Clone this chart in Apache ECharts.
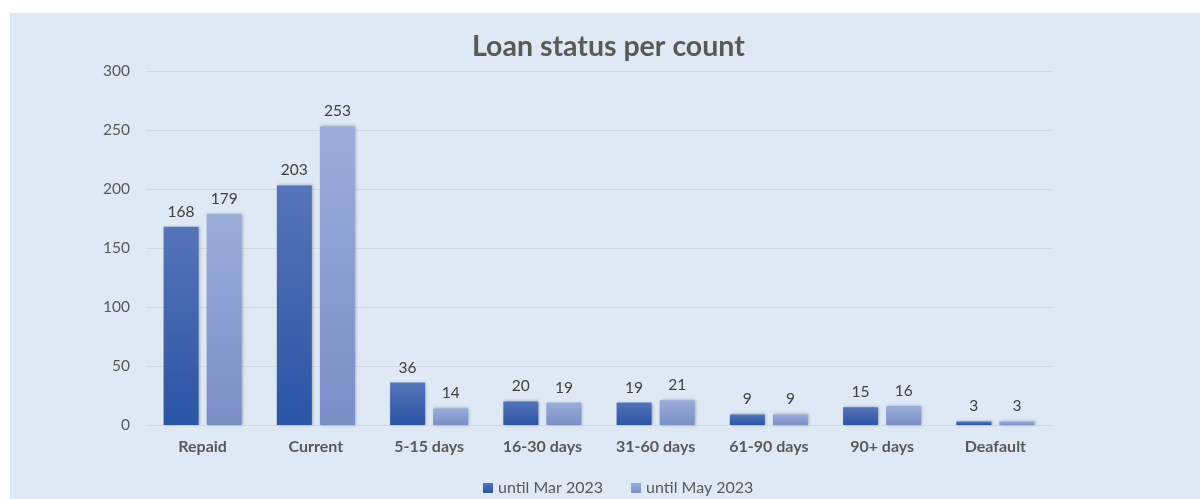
<!DOCTYPE html>
<html>
<head>
<meta charset="utf-8">
<script src="https://cdn.jsdelivr.net/npm/echarts@6/dist/echarts.min.js"></script>
<style>
html,body{margin:0;padding:0;background:#ffffff;width:1200px;height:499px;overflow:hidden;}
#chart{position:absolute;left:10px;top:13px;width:1190px;height:486px;}
</style>
</head>
<body>
<div id="chart"></div>
<script>
const categories = ['Repaid','Current','5-15 days','16-30 days','31-60 days','61-90 days','90+ days','Deafault'];
const seriesNames = ['until Mar 2023','until May 2023'];
const marValues = [168,203,36,20,19,9,15,3];
const mayValues = [179,253,14,19,21,9,16,3];
const yTicks = {min:0,max:300,interval:50};

const font = 'Lato, "Open Sans", sans-serif';
const chart = echarts.init(document.getElementById('chart'));
function grad(top,bottom){
  return new echarts.graphic.LinearGradient(0,0,0,1,[{offset:0,color:top},{offset:1,color:bottom}]);
}
const labelCfg = {show:true,position:'top',distance:7,color:'#404040',fontSize:15.5,fontFamily:font};
chart.setOption({
  backgroundColor:'#dee9f5',
  animation:false,
  title:{text:'Loan status per count',left:457,top:14,
    textStyle:{fontFamily:font,fontSize:28.5,fontWeight:'bold',color:'#595959'}},
  legend:{top:462,left:468,itemWidth:10,itemHeight:10,itemGap:28,icon:'rect',
    textStyle:{fontFamily:font,fontSize:16,color:'#595959'},
    data:seriesNames},
  grid:{left:136,right:148,top:58,bottom:74},
  xAxis:{type:'category',data:categories,
    axisLine:{lineStyle:{color:'#d3d9e0',width:1}},
    axisTick:{show:false},
    axisLabel:{fontFamily:font,fontSize:16,fontWeight:'bold',color:'#595959',margin:14}},
  yAxis:{type:'value',min:yTicks.min,max:yTicks.max,interval:yTicks.interval,
    axisLine:{show:false},axisTick:{show:false},
    splitLine:{lineStyle:{color:'#d3d9e0',width:1}},
    axisLabel:{fontFamily:font,fontSize:15.5,color:'#595959',margin:16}},
  series:[
    {name:seriesNames[0],type:'bar',data:marValues,barWidth:35,barGap:'23%',
      itemStyle:{color:grad('#5674b8','#2a54a5'),shadowBlur:3,shadowColor:'rgba(0,0,0,0.3)',shadowOffsetX:1,shadowOffsetY:0},
      label:labelCfg},
    {name:seriesNames[1],type:'bar',data:mayValues,barWidth:35,
      itemStyle:{color:grad('#9cadda','#7a8ec6'),shadowBlur:3,shadowColor:'rgba(0,0,0,0.3)',shadowOffsetX:1,shadowOffsetY:0},
      label:labelCfg}
  ]
});
</script>
</body>
</html>
